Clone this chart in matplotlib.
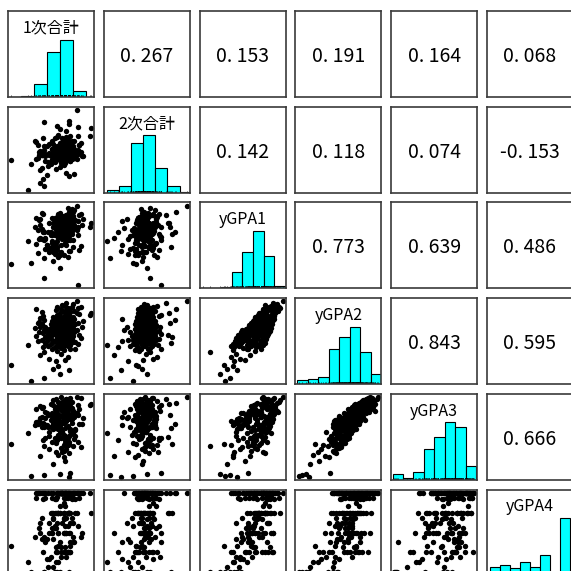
import numpy as np
import matplotlib.pyplot as plt

plt.rcParams['font.family'] = ['Noto Sans CJK JP', 'DejaVu Sans']

# --- DATA (one entry per student, same order in every list) ---
names = ['1次合計', '2次合計', 'yGPA1', 'yGPA2', 'yGPA3', 'yGPA4']

total1 = [38, 48, 60, 67, 55, 59, 23, 48, 57, 64, 52, 66, 45, 61, 68, 58, 63, 54, 72, 61,
          47, 56, 63, 51, 66, 59, 36, 62, 68, 74, 53, 65, 60, 49, 67, 58, 64, 55, 70, 61,
          72, 56, 63, 50, 66, 43, 61, 54, 68, 57, 64, 46, 62, 58, 69, 76, 60, 65, 52, 67,
          58, 64, 49, 61, 67, 42, 63, 70, 53, 60, 66, 57, 75, 51, 68, 59, 65, 55, 63, 47,
          62, 57, 66, 54, 71, 60, 64, 44, 67, 50, 63, 56, 69, 48, 65, 59, 62, 55, 73, 60,
          63, 58, 67, 52, 64, 41, 70, 56, 62, 66, 59, 45, 65, 77, 68, 49, 63, 54, 69, 62,
          61, 67, 58, 64, 55, 69, 62, 46, 66, 53, 63, 57, 72, 74, 65, 59, 43, 56, 68, 62,
          63, 59, 66, 44, 54, 68, 62, 57, 78, 60, 67, 48, 63, 70, 56, 64, 71, 66, 59, 62,
          65, 60, 68, 45, 63, 61, 70, 55, 66, 47, 59, 84, 64, 58, 67, 83, 75, 65, 73, 60,
          64, 46, 68, 62, 71, 57, 65, 61, 67, 42, 66, 74, 76, 58, 69, 64, 62, 70, 65, 73,
          74]

total2 = [143, 106, 167, 123, 158, 151, 149, 172, 135, 160, 176, 183, 112, 165, 189, 154, 146, 168, 157, 171,
          118, 152, 163, 139, 174, 160, 101, 185, 148, 166, 143, 158, 178, 156, 169, 206, 150, 161, 173, 145,
          159, 147, 168, 125, 176, 153, 162, 181, 157, 170, 144, 136, 165, 187, 151, 163, 174, 149, 158, 208,
          161, 172, 148, 155, 166, 179, 142, 169, 157, 201, 151, 163, 175, 146, 160, 190, 153, 167, 171, 159,
          164, 150, 177, 158, 168, 138, 182, 162, 155, 173, 160, 186, 152, 166, 128, 171, 157, 176, 163, 149,
          165, 154, 172, 161, 147, 180, 158, 169, 151, 175, 163, 133, 188, 156, 167, 159, 178, 152, 170, 162,
          166, 155, 173, 160, 149, 181, 164, 157, 170, 146, 177, 162, 153, 204, 168, 159, 174, 150, 167, 161,
          163, 154, 172, 158, 167, 148, 179, 161, 156, 170, 164, 212, 152, 168, 159, 175, 126, 166, 160, 171,
          162, 155, 170, 164, 150, 177, 159, 168, 161, 186, 153, 202, 172, 165, 157, 189, 174, 160, 151, 168,
          166, 158, 174, 161, 180, 155, 169, 163, 214, 152, 171, 160, 177, 165, 157, 183, 167, 162, 198, 232,
          189]

gpa1 = [1.20, 1.43, 0.97, 1.74, 1.30, 1.55, 1.16, 0.50, 1.62, 2.10, 1.88, 1.45, 2.35, 1.70, 2.28, 2.60, 1.55, 2.20, 2.85, 2.05,
        2.65, 1.60, 2.40, 1.85, 2.80, 1.45, 2.20, 2.95, 1.75, 2.50, 1.90, 2.70, 1.55, 2.35, 3.05, 1.95, 2.55, 1.70, 2.25, 2.85,
        2.90, 1.75, 2.45, 2.05, 3.00, 1.65, 2.60, 2.15, 2.85, 1.90, 2.50, 2.30, 3.10, 1.80, 2.70, 2.00, 2.95, 2.25, 1.70, 2.55,
        2.20, 2.95, 1.85, 2.60, 3.15, 2.10, 2.75, 1.95, 2.50, 3.05, 2.30, 2.85, 1.80, 2.65, 3.20, 2.40, 2.05, 2.90, 2.35, 2.70,
        3.10, 2.15, 2.80, 1.95, 2.95, 2.45, 3.25, 2.30, 2.70, 2.05, 3.00, 2.55, 3.30, 2.25, 2.85, 2.60, 3.15, 2.00, 2.75, 2.40,
        2.35, 3.20, 2.60, 3.05, 2.15, 2.90, 3.35, 2.50, 3.00, 2.25, 2.80, 3.25, 2.45, 2.95, 3.10, 2.30, 2.70, 3.30, 2.55, 2.85,
        3.25, 2.45, 2.95, 3.30, 2.55, 3.10, 2.30, 2.80, 3.40, 2.65, 3.05, 2.50, 3.20, 2.90, 3.35, 2.40, 2.75, 3.15, 2.60, 3.00,
        2.60, 3.35, 2.85, 3.20, 2.50, 3.05, 3.40, 2.75, 3.25, 2.95, 3.45, 2.65, 3.10, 2.80, 3.30, 2.55, 3.15, 2.90, 3.50, 3.00,
        3.30, 2.70, 3.45, 2.95, 3.20, 2.60, 3.40, 3.05, 2.85, 3.50, 3.15, 3.06, 2.75, 3.35, 3.00, 2.87, 3.45, 3.10, 2.80, 3.55,
        3.10, 3.55, 2.90, 3.40, 3.65, 3.20, 3.45, 2.95, 3.60, 3.30, 3.75, 3.15, 3.50, 3.25, 3.70, 3.35, 3.05, 3.60, 3.45, 3.88,
        0.15]

gpa2 = [0.06, 0.20, 0.40, 0.57, 0.62, 0.75, 0.82, 1.45, 1.00, 1.05, 1.12, 1.20, 1.30, 1.35, 1.56, 1.50, 1.52, 1.58, 1.60, 1.65,
        1.66, 1.68, 1.70, 1.71, 1.72, 1.74, 1.75, 1.76, 1.78, 1.80, 1.80, 1.82, 1.83, 1.85, 1.86, 1.88, 1.89, 1.90, 1.91, 1.92,
        1.93, 1.94, 1.95, 1.96, 1.97, 1.98, 1.99, 2.00, 2.00, 2.01, 2.02, 2.03, 2.05, 2.06, 2.07, 2.08, 2.10, 2.11, 2.12, 2.13,
        2.14, 2.15, 2.16, 2.17, 2.18, 2.19, 2.20, 2.21, 2.22, 2.23, 2.24, 2.25, 2.26, 2.27, 2.28, 2.29, 2.30, 2.31, 2.32, 2.33,
        2.34, 2.35, 2.36, 2.37, 2.38, 2.39, 2.40, 2.41, 2.42, 2.43, 2.44, 2.45, 2.45, 2.46, 2.47, 2.48, 2.48, 2.49, 2.50, 2.50,
        2.51, 2.52, 2.53, 2.54, 2.55, 2.56, 2.57, 2.58, 2.59, 2.60, 2.60, 2.61, 2.62, 2.63, 2.63, 2.64, 2.65, 2.66, 2.66, 2.67,
        2.68, 2.69, 2.70, 2.71, 2.72, 2.73, 2.74, 2.75, 2.75, 2.76, 2.77, 2.78, 2.79, 2.80, 2.80, 2.81, 2.82, 2.83, 2.84, 2.84,
        2.85, 2.86, 2.87, 2.88, 2.89, 2.90, 2.90, 2.91, 2.92, 2.93, 2.94, 2.95, 2.95, 2.96, 2.97, 2.98, 2.99, 3.00, 3.00, 3.01,
        3.02, 3.03, 3.05, 3.06, 3.08, 3.09, 3.10, 3.12, 3.13, 3.14, 3.16, 3.27, 3.19, 3.20, 3.22, 3.20, 3.25, 3.27, 3.28, 3.30,
        3.32, 3.34, 3.36, 3.38, 3.40, 3.42, 3.44, 3.46, 3.48, 3.50, 3.52, 3.54, 3.56, 3.58, 3.60, 3.64, 3.68, 3.72, 3.78, 3.85,
        np.nan]

gpa3 = [0.10, 0.15, 0.20, 0.08, 0.70, 1.10, 1.65, 1.55, 1.25, 0.85, 1.40, 1.60, 1.05, 2.20, 0.25, 1.90, 1.00, 1.75, 2.05, 1.95,
        1.85, 2.60, 1.30, 2.45, 1.60, 2.75, 2.15, 1.25, 2.35, 1.75, 2.80, 1.40, 2.55, 1.95, 1.20, 2.40, 2.05, 2.65, 1.55, 2.20,
        2.30, 2.85, 1.60, 2.55, 1.95, 2.70, 1.45, 3.00, 2.10, 2.40, 1.70, 2.95, 2.20, 1.85, 2.65, 1.50, 2.45, 2.75, 2.05, 1.65,
        2.55, 1.85, 2.90, 2.30, 1.75, 2.70, 2.10, 3.15, 2.45, 2.00, 2.85, 1.70, 2.60, 3.05, 2.25, 1.95, 2.80, 2.35, 3.10, 2.65,
        2.20, 3.05, 2.50, 2.85, 1.90, 3.30, 2.40, 2.75, 2.05, 3.15, 2.65, 1.95, 2.95, 2.45, 3.20, 2.10, 2.70, 2.55, 3.10, 2.25,
        3.05, 2.45, 3.30, 2.20, 2.85, 2.55, 2.15, 3.40, 2.70, 3.15, 2.35, 2.90, 3.25, 2.60, 2.30, 3.20, 2.80, 2.50, 3.35, 2.95,
        2.70, 3.35, 2.50, 3.10, 3.50, 2.85, 3.25, 2.45, 2.95, 3.55, 2.65, 3.20, 2.35, 3.05, 2.80, 3.45, 2.60, 3.30, 2.90, 3.00,
        3.30, 2.85, 3.55, 2.65, 3.15, 3.45, 2.70, 3.25, 2.90, 3.60, 3.05, 2.60, 3.40, 3.20, 2.75, 3.50, 2.95, 3.35, 3.10, 3.65,
        3.10, 3.60, 2.85, 3.45, 3.70, 3.00, 3.25, 3.75, 2.95, 3.40, 3.65, 3.56, 3.20, 2.80, 3.55, 3.50, 3.30, 3.80, 3.15, 3.45,
        3.70, 3.35, 3.85, 3.55, 3.20, 3.80, 3.45, 3.88, 3.60, 3.30, 3.75, 3.50, 3.85, 3.40, 3.65, 3.70, 3.55, 3.25, 3.80, 3.90,
        np.nan]

gpa4 = [0, 0, 0, 0, 0.25, 0.5, 1.33, 0, 0.5, 1.0, 0.67, 1.0, 2.0, 0.75, 1.5, 2.5, 1.0, 2.0, 3.0, 4.0,
        1.0, 0, 4.0, 0.25, 3.0, 4.0, 0.5, 4.0, 1.33, 2.33, 0.75, 2.75, 4.0, 1.5, 3.0, 0, 4.0, 1.67, 2.5, 4.0,
        4.0, 0, 2.0, 0.67, 4.0, 4.0, 4.0, 2.25, 3.0, 3.67, 2.33, 1.67, 4.0, 4.0, 3.67, 1.75, 4.0, 4.0, 2.5, 3.0,
        3.0, 4.0, 4.0, 1.25, 3.0, 3.75, 2.75, 1.5, 4.0, 3.0, 1.0, 2.25, 3.75, 4.0, 2.5, 2.0, 4.0, 2.67, 3.0, 4.0,
        4.0, 1.0, 3.0, 2.0, 4.0, 1.5, 3.33, 2.25, 4.0, 1.67, 3.0, 2.33, 3.75, 1.75, 4.0, 2.0, 2.5, 2.75, 3.0, 4.0,
        4.0, 1.0, 3.0, 2.0, 4.0, 1.75, 3.75, 2.25, 4.0, 2.33, 3.0, 2.5, 0.75, 2.0, 4.0, 3.75, 2.67, 3.0, 2.75, 4.0,
        4.0, 2.0, 4.0, 1.25, 4.0, 3.75, 4.0, 2.75, 1.0, 3.0, 3.5, 1.25, 3.67, 4.0, 2.0, 1.33, 4.0, 3.0, 3.8, 4.0,
        2.0, 3.0, 4.0, 4.0, 3.75, 1.0, 4.0, 3.0, 4.0, 3.33, 1.0, 4.0, 3.0, 1.75, 3.67, 4.0, 1.5, 3.75, 3.0, 4.0,
        4.0, 3.0, 2.0, 4.0, 3.75, 1.0, 4.0, 3.0, 4.0, 3.67, 4.0, 3.0, 2.0, 3.8, 4.0, 4.0, 4.0, 3.75, 4.0, 4.0,
        4.0, 4.0, 1.0, 4.0, 4.0, 3.75, 2.0, 4.0, 4.0, 4.0, 3.0, 4.0, 4.0, 4.0, 3.75, 4.0, 4.0, 4.0, 4.0, 4.0,
        np.nan]

# correlations shown in the upper panels, read row by row
corr_values = [0.267, 0.153, 0.191, 0.164, 0.068,
               0.142, 0.118, 0.074, -0.153,
               0.773, 0.639, 0.486,
               0.843, 0.595,
               0.666]

# histogram breaks and counts on the diagonal
edges_total1 = [20, 30, 40, 50, 60, 70, 80, 90]
edges_total2 = [100, 120, 140, 160, 180, 200, 220, 240]
edges_gpa = [0, 0.5, 1.0, 1.5, 2.0, 2.5, 3.0, 3.5, 4.0]
counts_total1 = [1, 3, 32, 110, 139, 14, 1]
counts_total2 = [6, 14, 100, 116, 50, 13, 1]
counts_gpa1 = [1, 1, 3, 33, 75, 117, 66, 4]
counts_gpa2 = [6, 8, 11, 53, 72, 87, 48, 15]
counts_gpa3 = [8, 3, 11, 44, 60, 81, 74, 19]
counts_gpa4 = [19, 25, 17, 32, 21, 48, 4, 134]

columns = [total1, total2, gpa1, gpa2, gpa3, gpa4]
edges = [edges_total1, edges_total2, edges_gpa, edges_gpa, edges_gpa, edges_gpa]
counts = [counts_total1, counts_total2, counts_gpa1, counts_gpa2, counts_gpa3, counts_gpa4]

# --- PLOT ---
W = 571
fig = plt.figure(figsize=(W / 100, W / 100), dpi=100)
fig.patch.set_facecolor('white')

PANEL = 86
STEP = 95.7


def data_lim(vals):
    v = np.asarray(vals, dtype=float)
    lo, hi = np.nanmin(v), np.nanmax(v)
    pad = 0.04 * (hi - lo)
    return lo - pad, hi + pad


k = 0
n = len(names)
for i in range(n):          # row
    for j in range(n):      # column
        left = 8.3 + STEP * j
        top = 11 + STEP * i
        ax = fig.add_axes([left / W, 1 - (top + PANEL) / W, PANEL / W, PANEL / W])
        ax.set_xticks([])
        ax.set_yticks([])
        for sp in ax.spines.values():
            sp.set_color('#3a3a3a')
            sp.set_linewidth(1.2)

        if i == j:
            e = np.asarray(edges[i], dtype=float)
            c = np.asarray(counts[i], dtype=float)
            ax.bar(e[:-1], c / c.max(), width=np.diff(e), align='edge',
                   color='cyan', edgecolor='black', linewidth=0.8)
            x = np.asarray(columns[i], dtype=float)
            x = x[~np.isnan(x)]
            ax.vlines(x, 0, 0.035, color='black', linewidth=0.5)
            ax.set_xlim(data_lim(columns[i]))
            ax.set_ylim(0, 1.5)
            ax.text(0.5, 0.8, names[i], transform=ax.transAxes,
                    ha='center', va='center', fontsize=11.5)
        elif i < j:
            v = corr_values[k]
            k += 1
            label = f'{v:.3f}'.replace('.', '. ')
            ax.text(0.5, 0.47, label, transform=ax.transAxes,
                    ha='center', va='center', fontsize=14)
        else:
            ax.scatter(columns[j], columns[i], s=15, color='black', linewidths=0)
            ax.set_xlim(data_lim(columns[j]))
            ax.set_ylim(data_lim(columns[i]))

fig.savefig('out.png', dpi=100)
